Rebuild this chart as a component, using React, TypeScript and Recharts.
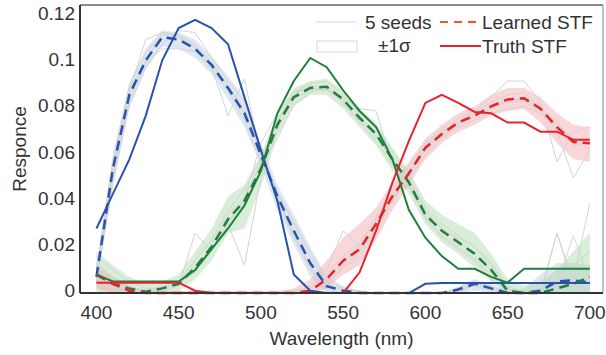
import { Area, ComposedChart, Line, ReferenceLine, XAxis, YAxis } from "recharts";

const wavelengths = [
  400, 410, 420, 430, 440, 450, 460, 470, 480, 490, 500, 510, 520, 530, 540, 550,
  560, 570, 580, 590, 600, 610, 620, 630, 640, 650, 660, 670, 680, 690, 700,
];
const xTicks = [400, 450, 500, 550, 600, 650, 700];
const yTicks = [0, 0.02, 0.04, 0.06, 0.08, 0.1, 0.12];

// ground truth STF
const blueTruth = [0.028, 0.043, 0.058, 0.077, 0.101, 0.115, 0.1185, 0.115, 0.108, 0.085, 0.062, 0.04, 0.008, 0.001, 0, 0, 0, 0, 0, 0, 0.004, 0.0043, 0.0043, 0.0043, 0.0043, 0.0043, 0.0043, 0.0043, 0.0043, 0.0043, 0.0043];
const greenTruth = [0.008, 0.005, 0.005, 0.005, 0.005, 0.005, 0.01, 0.019, 0.028, 0.038, 0.053, 0.078, 0.092, 0.102, 0.098, 0.088, 0.079, 0.072, 0.058, 0.036, 0.024, 0.016, 0.0105, 0.0105, 0.007, 0.0045, 0.0105, 0.0105, 0.0105, 0.0105, 0.0105];
const redTruth = [0.0045, 0.0045, 0.0045, 0.0045, 0.0045, 0.0045, 0.001, 0, 0, 0, 0, 0, 0, 0, 0, 0, 0.009, 0.027, 0.048, 0.066, 0.0825, 0.086, 0.0825, 0.0786, 0.078, 0.074, 0.074, 0.07, 0.07, 0.0665, 0.0665];

// learned STF (mean over seeds)
const blueLearned = [0.007, 0.054, 0.086, 0.101, 0.111, 0.11, 0.106, 0.099, 0.089, 0.078, 0.06, 0.042, 0.027, 0.013, 0.003, 0.001, 0, 0, 0, 0, 0, 0, 0.0015, 0.004, 0.002, 0, 0, 0.001, 0.005, 0.0055, 0.0045];
const greenLearned = [0.008, 0.004, 0.002, 0.0005, 0.002, 0.004, 0.011, 0.02, 0.032, 0.04, 0.054, 0.073, 0.085, 0.089, 0.0895, 0.084, 0.076, 0.069, 0.058, 0.048, 0.034, 0.027, 0.022, 0.017, 0.01, 0.001, 0, 0, 0.002, 0.004, 0.007];
const redLearned = [0.008, 0.004, 0.001, 0, 0, 0, 0, 0, 0, 0, 0, 0, 0, 0.001, 0.006, 0.014, 0.019, 0.03, 0.042, 0.052, 0.063, 0.069, 0.074, 0.077, 0.081, 0.084, 0.0845, 0.08, 0.072, 0.0655, 0.065];

// +-1 sigma bands
const blueLow = [0.003, 0.048, 0.08, 0.097, 0.107, 0.106, 0.102, 0.095, 0.084, 0.072, 0.055, 0.036, 0.021, 0.007, 0, 0, 0, 0, 0, 0, 0, 0, 0, 0.001, 0, 0, 0, 0, 0, 0, 0];
const blueHigh = [0.012, 0.06, 0.091, 0.106, 0.114, 0.113, 0.11, 0.103, 0.094, 0.085, 0.065, 0.047, 0.034, 0.02, 0.007, 0.003, 0.001, 0, 0, 0, 0, 0, 0.003, 0.006, 0.004, 0.001, 0.002, 0.008, 0.013, 0.013, 0.012];
const greenLow = [0, 0, 0, 0, 0, 0.001, 0.006, 0.014, 0.026, 0.028, 0.046, 0.068, 0.081, 0.086, 0.086, 0.08, 0.072, 0.064, 0.053, 0.043, 0.03, 0.022, 0.017, 0.011, 0.005, 0, 0, 0, 0, 0, 0];
const greenHigh = [0.018, 0.012, 0.007, 0.004, 0.005, 0.008, 0.018, 0.028, 0.042, 0.047, 0.06, 0.078, 0.089, 0.092, 0.093, 0.088, 0.08, 0.074, 0.063, 0.053, 0.04, 0.034, 0.03, 0.026, 0.017, 0.006, 0.003, 0.005, 0.01, 0.018, 0.026];
const redLow = [0.002, 0, 0, 0, 0, 0, 0, 0, 0, 0, 0, 0, 0, 0, 0.002, 0.008, 0.012, 0.023, 0.036, 0.047, 0.058, 0.065, 0.07, 0.073, 0.077, 0.079, 0.08, 0.074, 0.065, 0.058, 0.057];
const redHigh = [0.012, 0.007, 0.003, 0.001, 0.001, 0.001, 0.001, 0.001, 0.001, 0.001, 0.001, 0.001, 0.002, 0.006, 0.014, 0.024, 0.03, 0.037, 0.048, 0.057, 0.067, 0.073, 0.078, 0.081, 0.086, 0.089, 0.089, 0.085, 0.078, 0.073, 0.072];

// individual seeds
const seeds = [
  [0.01, 0.058, 0.09, 0.104, 0.113, 0.112, 0.108, 0.1, 0.09, 0.08, 0.062, 0.044, 0.03, 0.016, 0.004, 0.001, 0, 0, 0, 0, 0, 0, 0.002, 0.005, 0.003, 0, 0, 0.002, 0.008, 0.006, 0.005],
  [0.005, 0.047, 0.082, 0.098, 0.108, 0.114, 0.113, 0.102, 0.092, 0.083, 0.063, 0.04, 0.024, 0.01, 0.001, 0, 0, 0, 0, 0, 0, 0, 0.001, 0.003, 0.001, 0, 0.001, 0, 0.004, 0.005, 0.004],
  [0.004, 0.052, 0.088, 0.11, 0.113, 0.112, 0.106, 0.098, 0.077, 0.093, 0.058, 0.041, 0.027, 0.012, 0.003, 0.002, 0, 0, 0, 0, 0, 0, 0, 0.004, 0.002, 0, 0, 0, 0.026, 0.003, 0.002],
  [0.008, 0.05, 0.084, 0.1, 0.106, 0.106, 0.105, 0.097, 0.088, 0.075, 0.057, 0.043, 0.031, 0.018, 0.006, 0.002, 0.001, 0, 0, 0, 0, 0, 0.002, 0.004, 0.002, 0, 0, 0.002, 0.004, 0.025, 0.005],
  [0.009, 0.055, 0.087, 0.101, 0.112, 0.111, 0.107, 0.099, 0.09, 0.078, 0.061, 0.042, 0.025, 0.011, 0.002, 0, 0, 0, 0, 0, 0, 0, 0.001, 0.004, 0.002, 0.001, 0, 0.001, 0.003, 0.006, 0.039],
  [0.012, 0.006, 0.003, 0.001, 0.003, 0.005, 0.014, 0.023, 0.036, 0.045, 0.058, 0.075, 0.087, 0.091, 0.092, 0.086, 0.078, 0.072, 0.061, 0.051, 0.037, 0.03, 0.025, 0.02, 0.012, 0.002, 0, 0.001, 0.004, 0.006, 0.01],
  [0.004, 0.002, 0.001, 0, 0.001, 0.003, 0.026, 0.018, 0.03, 0.012, 0.05, 0.071, 0.084, 0.088, 0.088, 0.085, 0.08, 0.079, 0.056, 0.046, 0.032, 0.025, 0.02, 0.015, 0.008, 0, 0, 0, 0.001, 0.003, 0.005],
  [0.016, 0.01, 0.005, 0.002, 0.002, 0.004, 0.009, 0.021, 0.034, 0.042, 0.056, 0.067, 0.082, 0.087, 0.09, 0.083, 0.074, 0.066, 0.056, 0.047, 0.034, 0.028, 0.024, 0.02, 0.013, 0.003, 0, 0.002, 0.008, 0.012, 0.018],
  [0.006, 0.003, 0.001, 0, 0.002, 0.004, 0.01, 0.019, 0.031, 0.04, 0.053, 0.074, 0.086, 0.09, 0.089, 0.082, 0.075, 0.068, 0.058, 0.049, 0.033, 0.024, 0.019, 0.014, 0.006, 0, 0, 0, 0.026, 0.005, 0.004],
  [0.009, 0.004, 0.002, 0.001, 0.002, 0.004, 0.012, 0.019, 0.03, 0.041, 0.065, 0.078, 0.087, 0.089, 0.088, 0.084, 0.077, 0.068, 0.059, 0.049, 0.036, 0.028, 0.023, 0.016, 0.01, 0.001, 0, 0, 0.003, 0.004, 0.007],
  [0.01, 0.005, 0.002, 0, 0, 0, 0, 0, 0, 0, 0, 0, 0, 0.003, 0.01, 0.027, 0.02, 0.033, 0.045, 0.055, 0.065, 0.071, 0.076, 0.079, 0.085, 0.092, 0.092, 0.083, 0.057, 0.07, 0.072],
  [0.005, 0.002, 0, 0, 0, 0, 0, 0, 0, 0, 0, 0, 0, 0, 0.004, 0.011, 0.016, 0.027, 0.04, 0.05, 0.06, 0.067, 0.072, 0.075, 0.078, 0.08, 0.081, 0.078, 0.075, 0.064, 0.066],
  [0.013, 0.007, 0.002, 0, 0, 0, 0, 0, 0, 0, 0, 0, 0.001, 0.002, 0.008, 0.016, 0.022, 0.032, 0.043, 0.053, 0.064, 0.07, 0.075, 0.078, 0.083, 0.086, 0.087, 0.08, 0.07, 0.05, 0.062],
  [0.006, 0.003, 0.001, 0, 0, 0, 0, 0, 0, 0, 0, 0, 0, 0, 0.003, 0.012, 0.018, 0.028, 0.041, 0.051, 0.062, 0.068, 0.073, 0.077, 0.08, 0.083, 0.083, 0.079, 0.073, 0.067, 0.065],
  [0.008, 0.004, 0.001, 0, 0, 0, 0, 0, 0, 0, 0, 0, 0, 0.001, 0.007, 0.013, 0.021, 0.031, 0.042, 0.052, 0.063, 0.069, 0.074, 0.077, 0.08, 0.084, 0.084, 0.081, 0.073, 0.066, 0.063],
];

const BLUE = "#2a52ad";
const GREEN = "#1f7f3c";
const RED = "#e8222a";
const SEED = "#d4d4d4";
const TEXT = "#333";
const FONT = "'Liberation Sans', Arial, sans-serif";

const data = wavelengths.map((nm, i) => {
  const row: Record<string, number | number[]> = {
    nm,
    bT: blueTruth[i],
    gT: greenTruth[i],
    rT: redTruth[i],
    bL: blueLearned[i],
    gL: greenLearned[i],
    rL: redLearned[i],
    bBand: [blueLow[i], blueHigh[i]],
    gBand: [greenLow[i], greenHigh[i]],
    rBand: [redLow[i], redHigh[i]],
  };
  seeds.forEach((s, k) => {
    row["s" + k] = s[i];
  });
  return row;
});

function LegendBox() {
  return (
    <svg
      width={606}
      height={70}
      style={{ position: "absolute", left: 0, top: 0, pointerEvents: "none" }}
      fontFamily={FONT}
      fontSize={19}
      fill={TEXT}
    >
      <line x1={316} y1={22} x2={356} y2={22} stroke={SEED} strokeWidth={1.2} />
      <text x={365} y={29}>5 seeds</text>
      <line x1={440} y1={22} x2={481} y2={22} stroke="#f0582a" strokeWidth={2.2} strokeDasharray="8 6" />
      <text x={482} y={29}>Learned STF</text>
      <rect x={317} y={41} width={40} height={11} fill="#fff" stroke="#d8d8d8" strokeWidth={1} />
      <text x={378} y={52}>±1σ</text>
      <line x1={440} y1={46} x2={481} y2={46} stroke={RED} strokeWidth={2} />
      <text x={482} y={53}>Truth STF</text>
    </svg>
  );
}

export default function App() {
  return (
    <div style={{ position: "absolute", left: 0, top: 0, width: 606, height: 355, background: "#fff" }}>
      <ComposedChart width={606} height={355} data={data} margin={{ top: 5, right: 3, bottom: 0, left: 0 }}>
        <XAxis
          dataKey="nm"
          type="number"
          domain={[390, 708]}
          ticks={xTicks}
          tickLine={false}
          tickSize={0}
          tickMargin={13}
          height={62}
          axisLine={{ stroke: TEXT, strokeWidth: 2 }}
          tick={{ fill: TEXT, fontSize: 19, fontFamily: FONT }}
          label={{ value: "Wavelength (nm)", position: "insideBottom", offset: 10, fill: TEXT, fontSize: 19, fontFamily: FONT }}
        />
        <YAxis
          type="number"
          domain={[0, 0.125]}
          ticks={yTicks}
          width={80}
          tickLine={false}
          tickSize={0}
          tickMargin={5}
          axisLine={{ stroke: TEXT, strokeWidth: 2 }}
          tick={{ fill: TEXT, fontSize: 19, fontFamily: FONT, dy: -3 }}
          label={{ value: "Responce", angle: -90, position: "insideLeft", offset: 19, fill: TEXT, fontSize: 19, fontFamily: FONT, style: { textAnchor: "middle" } }}
        />
        <ReferenceLine y={0.125} stroke="#666" strokeWidth={1.6} />
        <ReferenceLine x={708} stroke="#999" strokeWidth={1.2} />

        {seeds.map((_, k) => (
          <Line key={k} dataKey={"s" + k} stroke={SEED} strokeWidth={1} dot={false} activeDot={false} isAnimationActive={false} />
        ))}

        <Area dataKey="bBand" stroke="none" fill="#b3cbe3" fillOpacity={0.45} isAnimationActive={false} />
        <Area dataKey="gBand" stroke="none" fill="#a8d9a6" fillOpacity={0.45} isAnimationActive={false} />
        <Area dataKey="rBand" stroke="none" fill="#f2a3a6" fillOpacity={0.45} isAnimationActive={false} />

        <Line dataKey="bL" stroke={BLUE} strokeWidth={2.5} strokeDasharray="10 6" dot={false} activeDot={false} isAnimationActive={false} />
        <Line dataKey="gL" stroke={GREEN} strokeWidth={2.5} strokeDasharray="10 6" dot={false} activeDot={false} isAnimationActive={false} />
        <Line dataKey="rL" stroke={RED} strokeWidth={2.5} strokeDasharray="10 6" dot={false} activeDot={false} isAnimationActive={false} />

        <Line dataKey="bT" stroke={BLUE} strokeWidth={2} dot={false} activeDot={false} isAnimationActive={false} />
        <Line dataKey="gT" stroke={GREEN} strokeWidth={2} dot={false} activeDot={false} isAnimationActive={false} />
        <Line dataKey="rT" stroke={RED} strokeWidth={2} dot={false} activeDot={false} isAnimationActive={false} />
      </ComposedChart>
      <LegendBox />
    </div>
  );
}
